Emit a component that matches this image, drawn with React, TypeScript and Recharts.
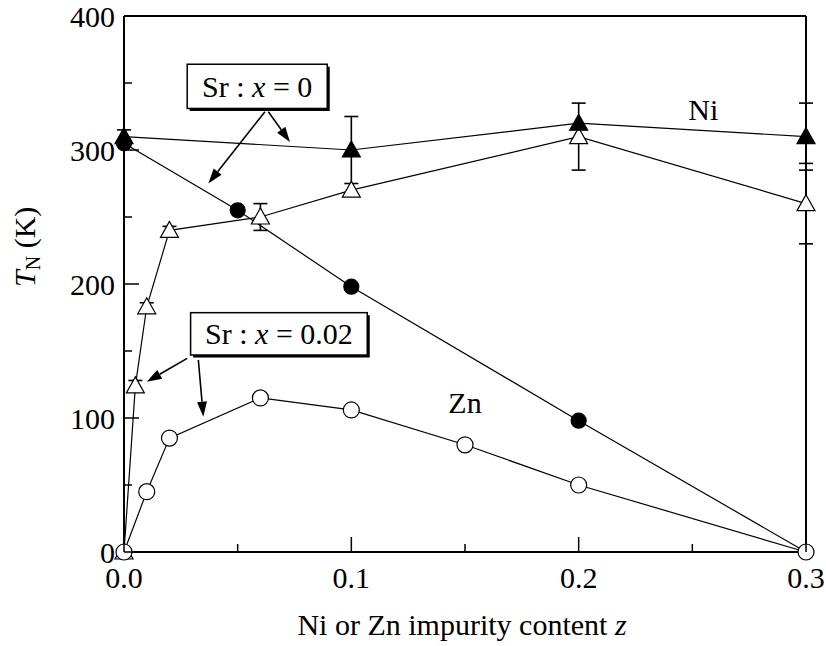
import { LineChart, Line, XAxis, YAxis, ErrorBar, ReferenceArea, ReferenceLine, ReferenceDot } from 'recharts'

const FONT = "'Liberation Serif', 'Times New Roman', Times, serif"
const txt = { fontFamily: FONT, fontSize: 30, fill: '#000' }

// Sr x = 0, Ni doped (filled triangles)
const niSr0Z = [0, 0.1, 0.2, 0.3]
const niSr0T = [310, 300, 320, 310]
const niSr0Err = [5, 25, 0, 25]

// Sr x = 0.02, Ni doped (open triangles)
const niSr2Z = [0, 0.005, 0.01, 0.02, 0.06, 0.1, 0.2, 0.3]
const niSr2T = [0, 124, 183, 240, 250, 270, 310, 260]
const niSr2Err = [0, 4, 3, 3, 10, 0, 25, 30]

// Sr x = 0, Zn doped (filled circles)
const znSr0Z = [0, 0.05, 0.1, 0.2, 0.3]
const znSr0T = [305, 255, 198, 98, 0]

// Sr x = 0.02, Zn doped (open circles)
const znSr2Z = [0, 0.01, 0.02, 0.06, 0.1, 0.15, 0.2, 0.3]
const znSr2T = [0, 45, 85, 115, 106, 80, 50, 0]

const xTicks = [0, 0.05, 0.1, 0.15, 0.2, 0.25, 0.3]
const yTicks = [0, 50, 100, 150, 200, 250, 300, 350, 400]

// annotation boxes and arrows, in data units
const boxes = [
  { label: '0', x1: 0.0278, x2: 0.0894, y1: 331, y2: 364 },
  { label: '0.02', x1: 0.0293, x2: 0.107, y1: 147, y2: 178.6 },
]
const arrows = [
  { x1: 0.062, y1: 328.6, x2: 0.0371, y2: 275 },
  { x1: 0.0635, y1: 328.6, x2: 0.073, y2: 306 },
  { x1: 0.0278, y1: 144.5, x2: 0.01, y2: 127 },
  { x1: 0.0327, y1: 143.3, x2: 0.0349, y2: 101 },
]
const tags = [
  { text: 'Ni', z: 0.2548, t: 330 },
  { text: 'Zn', z: 0.15, t: 111 },
]

const zip = (z: number[], t: number[], err?: number[]) =>
  z.map((v, i) => ({ z: v, t: t[i], err: err ? err[i] : 0 }))

const triangle = (fill: string) => (p: any) => {
  const { cx, cy, index } = p
  if (cx == null || cy == null) return <g key={index} />
  return (
    <polygon
      key={index}
      points={`${cx},${cy - 9} ${cx - 9},${cy + 7} ${cx + 9},${cy + 7}`}
      fill={fill}
      stroke="#000"
      strokeWidth={1.2}
    />
  )
}

const circle = (fill: string, r: number) => (p: any) => {
  const { cx, cy, index } = p
  if (cx == null || cy == null) return <g key={index} />
  return <circle key={index} cx={cx} cy={cy} r={r} fill={fill} stroke="#000" strokeWidth={1.2} />
}

const isMajor = (v: number, step: number) => Math.abs(v / step - Math.round(v / step)) < 1e-6

function BottomTick({ x, y, payload }: any) {
  const major = isMajor(payload.value, 0.1)
  return (
    <g>
      <line x1={x} y1={y} x2={x} y2={y - (major ? 15 : 8)} stroke="#000" strokeWidth={1.5} />
      {major && (
        <text x={x} y={y + 36} textAnchor="middle" style={txt}>
          {payload.value.toFixed(1)}
        </text>
      )}
    </g>
  )
}

function TopTick({ x, y, payload }: any) {
  const major = isMajor(payload.value, 0.1)
  return <line x1={x} y1={y} x2={x} y2={y + (major ? 15 : 8)} stroke="#000" strokeWidth={1.5} />
}

function LeftTick({ x, y, payload }: any) {
  const major = isMajor(payload.value, 100)
  return (
    <g>
      <line x1={x} y1={y} x2={x + (major ? 15 : 8)} y2={y} stroke="#000" strokeWidth={1.5} />
      {major && (
        <text x={x - 9} y={y + 11} textAnchor="end" style={txt}>
          {payload.value}
        </text>
      )}
    </g>
  )
}

function RightTick({ x, y, payload }: any) {
  const major = isMajor(payload.value, 100)
  return <line x1={x} y1={y} x2={x - (major ? 15 : 8)} y2={y} stroke="#000" strokeWidth={1.5} />
}

function Arrow(p: any) {
  const { x1, y1, x2, y2 } = p
  const dx = x2 - x1
  const dy = y2 - y1
  const len = Math.sqrt(dx * dx + dy * dy)
  const ux = dx / len
  const uy = dy / len
  const head = 15
  const hw = 5
  const bx = x2 - ux * head
  const by = y2 - uy * head
  return (
    <g>
      <line x1={x1} y1={y1} x2={bx} y2={by} stroke="#000" strokeWidth={1.6} />
      <polygon
        points={`${x2},${y2} ${bx - uy * hw},${by + ux * hw} ${bx + uy * hw},${by - ux * hw}`}
        fill="#000"
      />
    </g>
  )
}

const boxShape = (label: string) => (p: any) => {
  const { x, y, width, height } = p
  return (
    <g>
      <rect x={x + 2.5} y={y + 2.5} width={width} height={height} fill="#000" />
      <rect x={x} y={y} width={width} height={height} fill="#fff" stroke="#000" strokeWidth={1.5} />
      <text x={x + width / 2} y={y + height / 2 + 10.5} textAnchor="middle" style={txt}>
        Sr : <tspan style={{ fontStyle: 'italic' }}>x</tspan> = {label}
      </text>
    </g>
  )
}

const tagShape = (text: string) => (p: any) => (
  <text x={p.cx} y={p.cy + 10} textAnchor="middle" style={txt}>
    {text}
  </text>
)

export default function App() {
  return (
    <div style={{ position: 'absolute', left: 0, top: 0, background: '#fff' }}>
      <LineChart width={826} height={646} margin={{ top: 0, right: 0, bottom: 0, left: 0 }}>
        <XAxis
          xAxisId={0}
          dataKey="z"
          type="number"
          domain={[0, 0.3]}
          ticks={xTicks}
          interval={0}
          height={94}
          tickSize={0}
          tickMargin={0}
          tickLine={false}
          tick={<BottomTick />}
          axisLine={{ stroke: '#000', strokeWidth: 2 }}
          label={{
            content: () => (
              <text x={462} y={635} textAnchor="middle" style={txt}>
                Ni or Zn impurity content <tspan style={{ fontStyle: 'italic' }}>z</tspan>
              </text>
            ),
          }}
        />
        <XAxis
          xAxisId="top"
          orientation="top"
          dataKey="z"
          type="number"
          domain={[0, 0.3]}
          ticks={xTicks}
          interval={0}
          height={16}
          tickSize={0}
          tickMargin={0}
          tickLine={false}
          tick={<TopTick />}
          axisLine={{ stroke: '#000', strokeWidth: 2 }}
        />
        <YAxis
          yAxisId={0}
          type="number"
          domain={[0, 400]}
          ticks={yTicks}
          interval={0}
          width={124}
          tickSize={0}
          tickMargin={0}
          tickLine={false}
          tick={<LeftTick />}
          axisLine={{ stroke: '#000', strokeWidth: 2 }}
          label={{
            content: () => (
              <text x={35} y={287} transform="rotate(-90 35 287)" textAnchor="start" style={txt}>
                <tspan style={{ fontStyle: 'italic' }}>T</tspan>
                <tspan style={{ fontSize: 20 }} dy={5}>N</tspan>
                <tspan dy={-5}> (K)</tspan>
              </text>
            ),
          }}
        />
        <YAxis
          yAxisId="right"
          orientation="right"
          type="number"
          domain={[0, 400]}
          ticks={yTicks}
          interval={0}
          width={20}
          tickSize={0}
          tickMargin={0}
          tickLine={false}
          tick={<RightTick />}
          axisLine={{ stroke: '#000', strokeWidth: 2 }}
        />

        {boxes.map((b) => (
          <ReferenceArea
            key={b.label}
            x1={b.x1}
            x2={b.x2}
            y1={b.y1}
            y2={b.y2}
            shape={boxShape(b.label)}
          />
        ))}
        {arrows.map((a, i) => (
          <ReferenceLine
            key={i}
            segment={[
              { x: a.x1, y: a.y1 },
              { x: a.x2, y: a.y2 },
            ]}
            shape={Arrow}
          />
        ))}
        {tags.map((t) => (
          <ReferenceDot key={t.text} x={t.z} y={t.t} r={0} shape={tagShape(t.text)} />
        ))}

        <Line
          data={zip(znSr0Z, znSr0T)}
          dataKey="t"
          stroke="#000"
          strokeWidth={1.2}
          dot={circle('#000', 7.5)}
          isAnimationActive={false}
        />
        <Line
          data={zip(niSr2Z, niSr2T, niSr2Err)}
          dataKey="t"
          stroke="#000"
          strokeWidth={1.2}
          dot={triangle('#fff')}
          isAnimationActive={false}
        >
          <ErrorBar dataKey="err" width={7} stroke="#000" strokeWidth={1.6} direction="y" />
        </Line>
        <Line
          data={zip(znSr2Z, znSr2T)}
          dataKey="t"
          stroke="#000"
          strokeWidth={1.2}
          dot={circle('#fff', 8)}
          isAnimationActive={false}
        />
        <Line
          data={zip(niSr0Z, niSr0T, niSr0Err)}
          dataKey="t"
          stroke="#000"
          strokeWidth={1.2}
          dot={triangle('#000')}
          isAnimationActive={false}
        >
          <ErrorBar dataKey="err" width={7} stroke="#000" strokeWidth={1.6} direction="y" />
        </Line>
      </LineChart>
    </div>
  )
}
